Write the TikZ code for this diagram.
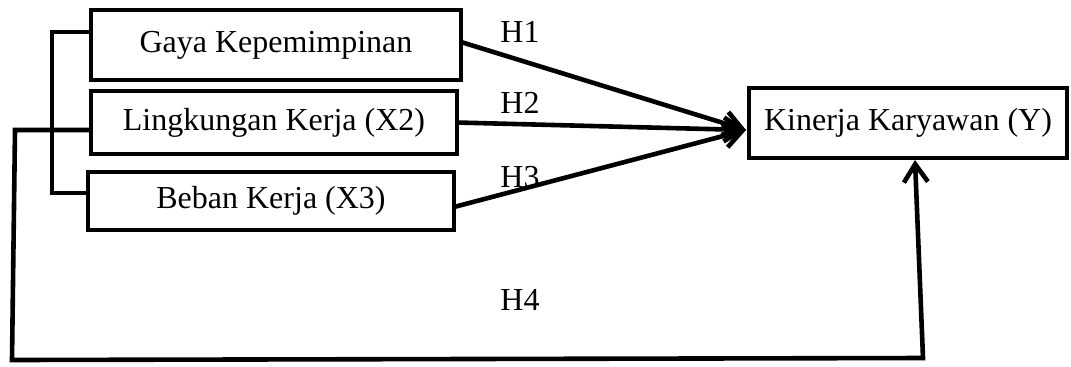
\documentclass[tikz,border=0pt]{standalone}
\usepackage{fontspec}
\setmainfont{Liberation Serif}
\usetikzlibrary{calc,arrows.meta}
\begin{document}
\begin{tikzpicture}[x=0.5pt,y=-0.5pt,
  box/.style={draw,line width=2.3pt,outer sep=0pt,inner sep=0pt,font=\fontsize{16}{19}\selectfont},
  lbl/.style={font=\fontsize{16}{19}\selectfont,inner sep=0pt},
  conn/.style={line width=2.3pt},
  arr/.style={line width=2.3pt,-{Straight Barb[length=9pt,width=12pt,line width=2.3pt]}}]
\useasboundingbox (0,0) rectangle (1071,366);
\node[box,minimum width=185pt,minimum height=35pt] (g) at (276,45) {Gaya Kepemimpinan};
\node[box,minimum width=183pt,minimum height=31.5pt] (l) at (274,122.5) {Lingkungan Kerja (X2)};
\node[box,minimum width=183pt,minimum height=29pt] (b) at (271,201) {Beban Kerja (X3)};
\node[box,minimum width=159pt,minimum height=35pt] (k) at (908,123) {Kinerja Karyawan (Y)};
\coordinate (kin) at (746,130);
\draw[arr] ($(g.east)+(0,-3)$) -- (kin);
\draw[arr] (l.east) -- (kin);
\draw[arr] ($(b.east)+(0,6)$) -- (kin);
\draw[conn] ($(g.west)+(0,-13)$) -- ++(-39,0) |- ($(b.west)+(0,-8)$);
\draw[arr] ($(l.west)+(0,7.5)$) -- (15,130) -- (12,360) -- (923,358) -- ($(k.south)+(7,2)$);
\node[lbl] (h1) at (520,32) {H1};
\node[lbl] (h2) at (520,103) {H2};
\node[lbl] (h3) at (520,177) {H3};
\node[lbl] (h4) at (520,300) {H4};
\end{tikzpicture}
\end{document}
